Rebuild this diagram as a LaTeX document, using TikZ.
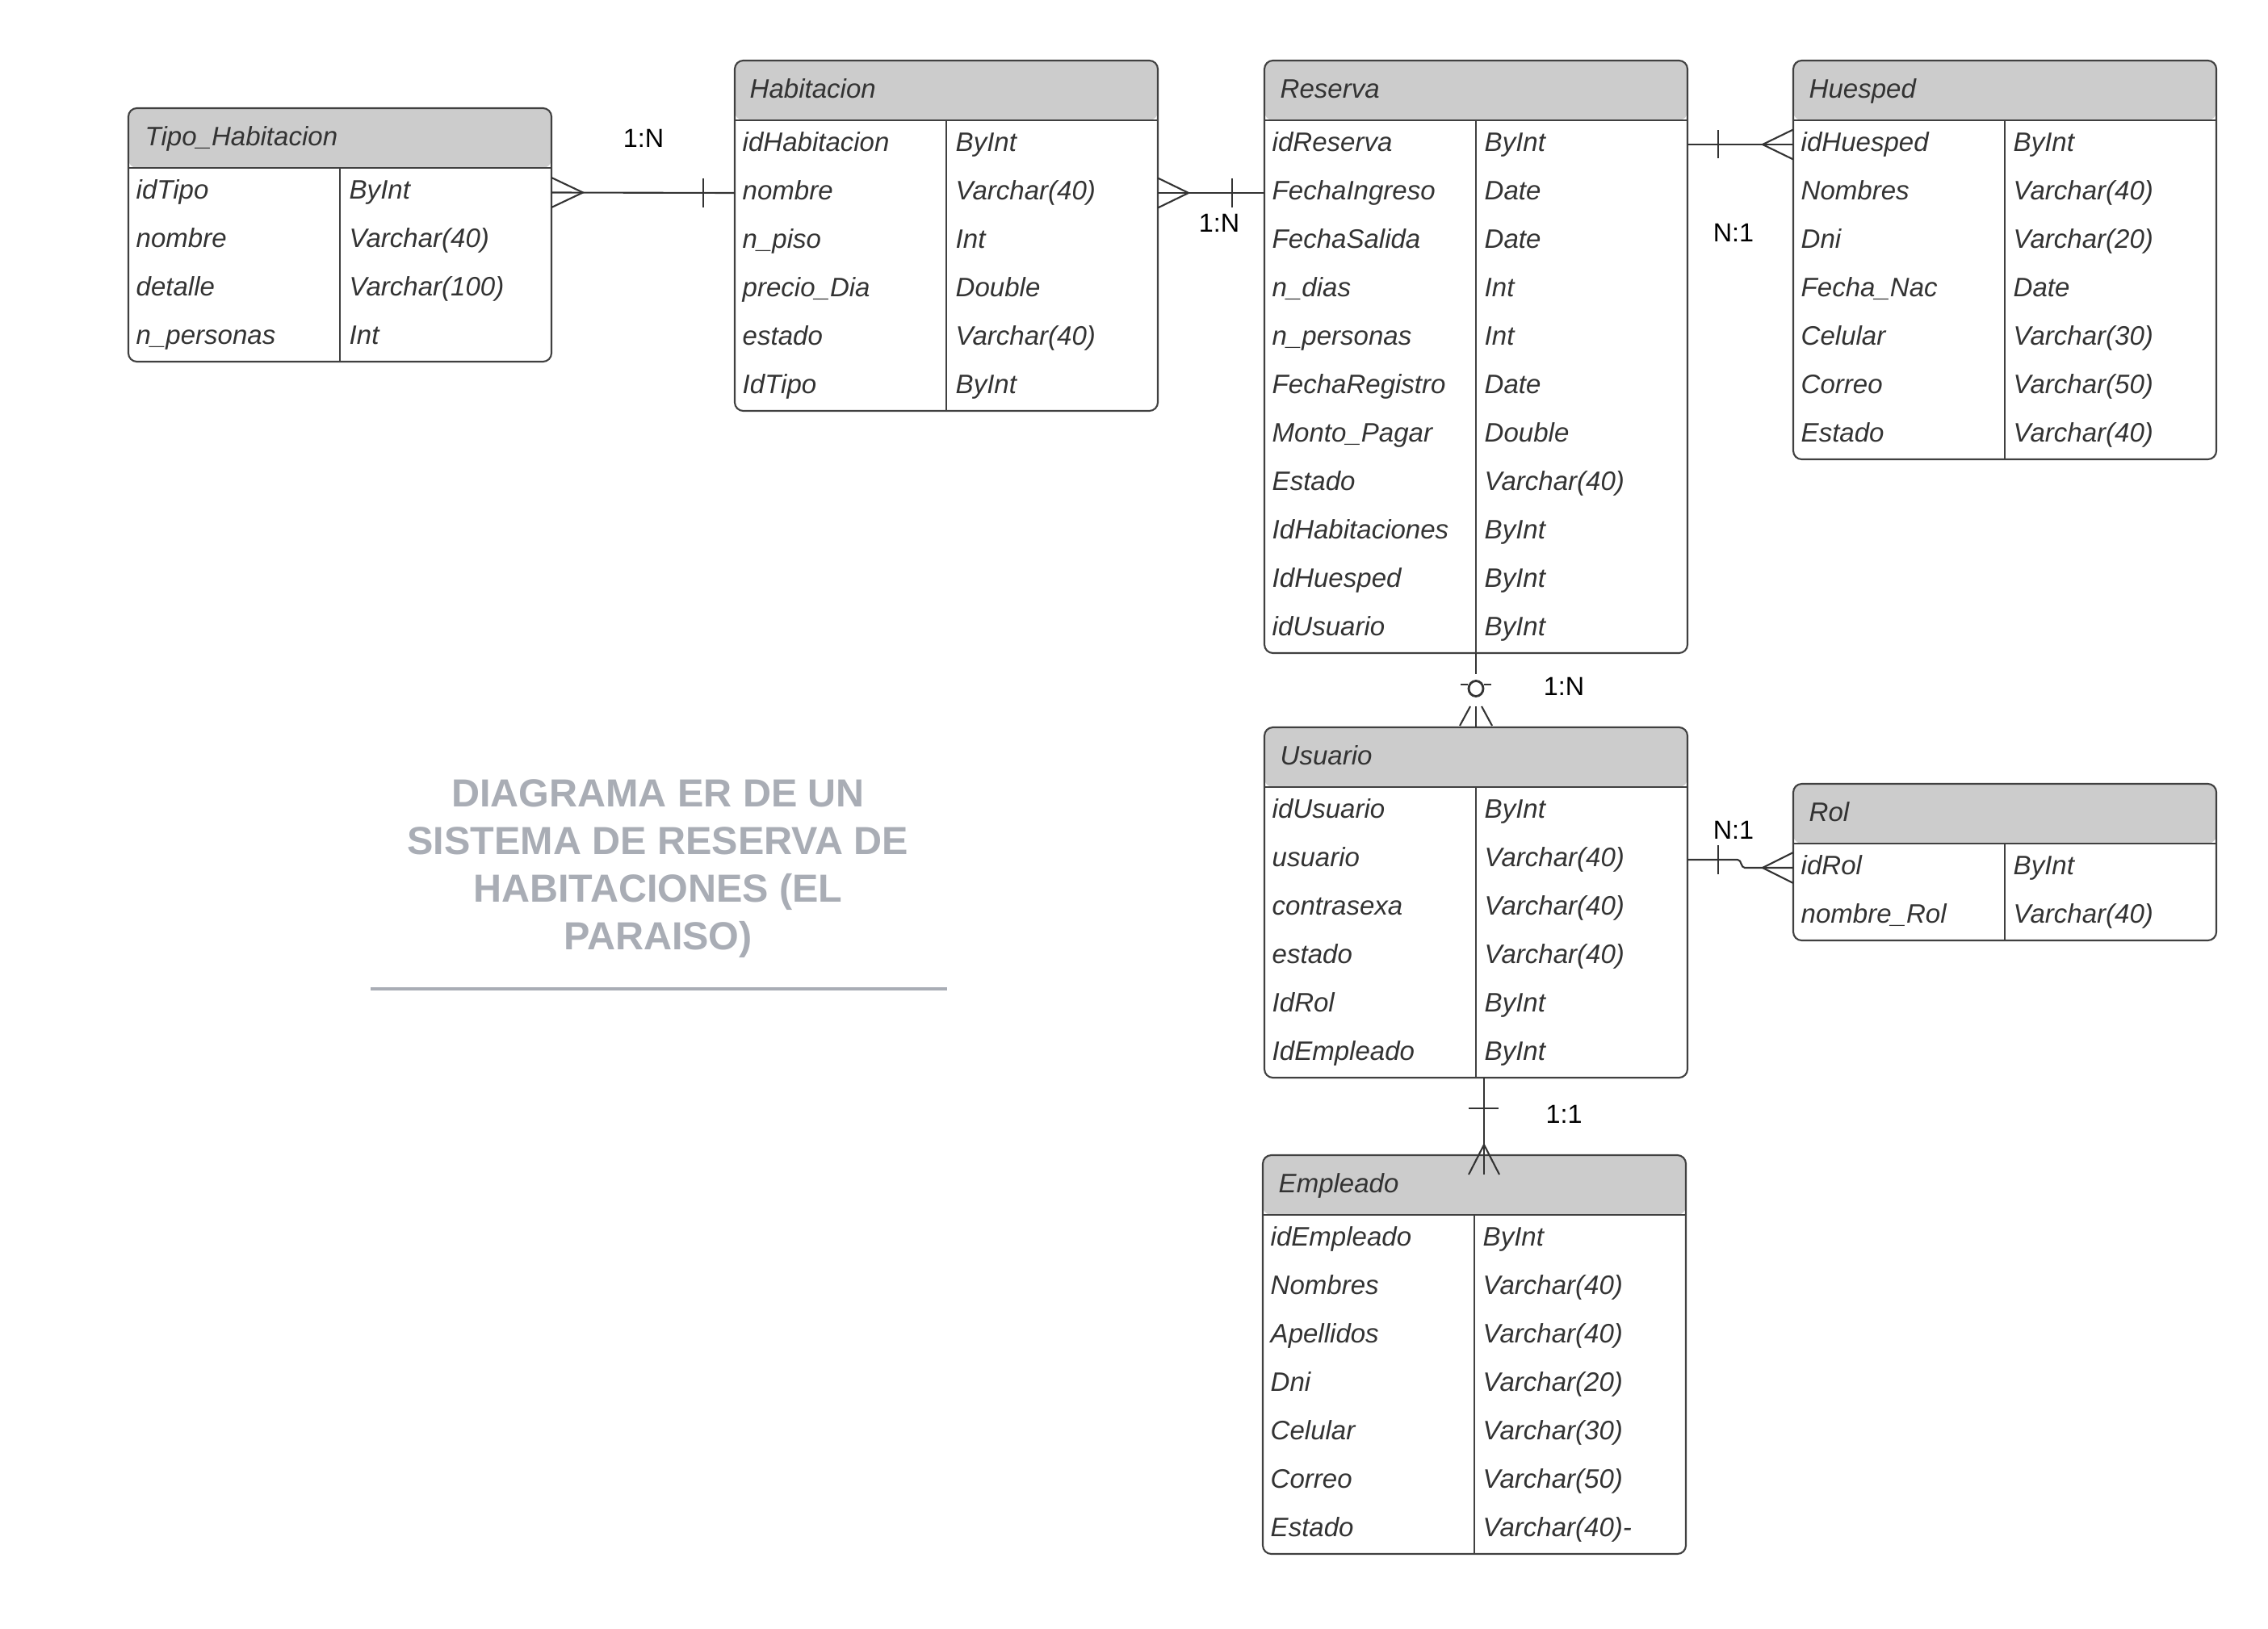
\documentclass[tikz,border=0pt]{standalone}
\usepackage{fontspec}
\setmainfont{Liberation Sans}
\usepackage{xcolor}

\definecolor{headgray}{HTML}{CCCCCC}
\definecolor{framegray}{HTML}{404040}
\definecolor{textgray}{HTML}{333333}
\definecolor{titlegray}{HTML}{A9ADB5}

\begin{document}
\begin{tikzpicture}[
    % Node styles
    entity/.style={
        rectangle,
        rounded corners=3pt,
        draw=framegray,
        line width=0.6pt,
        anchor=north west,
        minimum width=5.24cm,
        inner sep=0pt,
        outer sep=0pt,
        path picture={
            \fill[headgray] (path picture bounding box.north west)
                rectangle ([yshift=-0.74cm]path picture bounding box.north east);
        }
    },
    fieldtxt/.style={
        anchor=base west,
        inner sep=0pt,
        yshift=-0.25mm,
        font=\fontsize{9.4}{11}\selectfont\itshape,
        text=textgray
    },
    cardtxt/.style={
        inner sep=0pt,
        font=\fontsize{9.2}{11}\selectfont,
        text=black
    },
    titletxt/.style={
        align=center,
        font=\fontsize{13.8}{16.8}\selectfont\bfseries,
        text=titlegray
    },
    rule/.style={
        draw=framegray,
        line width=0.6pt
    },
    relline/.style={
        draw=textgray,
        line width=0.6pt
    }
]

\path[use as bounding box, fill=white] (0,0) rectangle (28.09,-20.18);

% ===== Tipo_Habitacion =====

\node[entity, minimum height=3.14cm] (tipo) at (1.59,-1.34) {};
\draw[rule] ([yshift=-0.74cm]tipo.north west) -- ([yshift=-0.74cm]tipo.north east);
\draw[rule] ([yshift=-0.74cm]tipo.north) -- (tipo.south);
\node[fieldtxt] (tipoH) at (1.79,-1.78) {Tipo\_Habitacion};
\node[fieldtxt] (tipoF1) at (1.68,-2.44) {idTipo};
\node[fieldtxt] (tipoT1) at (4.32,-2.44) {ByInt};
\node[fieldtxt] (tipoF2) at (1.68,-3.04) {nombre};
\node[fieldtxt] (tipoT2) at (4.32,-3.04) {Varchar(40)};
\node[fieldtxt] (tipoF3) at (1.68,-3.64) {detalle};
\node[fieldtxt] (tipoT3) at (4.32,-3.64) {Varchar(100)};
\node[fieldtxt] (tipoF4) at (1.68,-4.24) {n\_personas};
\node[fieldtxt] (tipoT4) at (4.32,-4.24) {Int};

% ===== Habitacion =====

\node[entity, minimum height=4.34cm] (hab) at (9.10,-0.75) {};
\draw[rule] ([yshift=-0.74cm]hab.north west) -- ([yshift=-0.74cm]hab.north east);
\draw[rule] ([yshift=-0.74cm]hab.north) -- (hab.south);
\node[fieldtxt] (habH) at (9.28,-1.19) {Habitacion};
\node[fieldtxt] (habF1) at (9.19,-1.85) {idHabitacion};
\node[fieldtxt] (habT1) at (11.83,-1.85) {ByInt};
\node[fieldtxt] (habF2) at (9.19,-2.45) {nombre};
\node[fieldtxt] (habT2) at (11.83,-2.45) {Varchar(40)};
\node[fieldtxt] (habF3) at (9.19,-3.05) {n\_piso};
\node[fieldtxt] (habT3) at (11.83,-3.05) {Int};
\node[fieldtxt] (habF4) at (9.19,-3.65) {precio\_Dia};
\node[fieldtxt] (habT4) at (11.83,-3.65) {Double};
\node[fieldtxt] (habF5) at (9.19,-4.25) {estado};
\node[fieldtxt] (habT5) at (11.83,-4.25) {Varchar(40)};
\node[fieldtxt] (habF6) at (9.19,-4.85) {IdTipo};
\node[fieldtxt] (habT6) at (11.83,-4.85) {ByInt};

% ===== Reserva =====

\node[entity, minimum height=7.34cm] (res) at (15.66,-0.75) {};
\draw[rule] ([yshift=-0.74cm]res.north west) -- ([yshift=-0.74cm]res.north east);
\draw[rule] ([yshift=-0.74cm]res.north) -- (res.south);
\node[fieldtxt] (resH) at (15.85,-1.19) {Reserva};
\node[fieldtxt] (resF1) at (15.75,-1.85) {idReserva};
\node[fieldtxt] (resT1) at (18.38,-1.85) {ByInt};
\node[fieldtxt] (resF2) at (15.75,-2.45) {FechaIngreso};
\node[fieldtxt] (resT2) at (18.38,-2.45) {Date};
\node[fieldtxt] (resF3) at (15.75,-3.05) {FechaSalida};
\node[fieldtxt] (resT3) at (18.38,-3.05) {Date};
\node[fieldtxt] (resF4) at (15.75,-3.65) {n\_dias};
\node[fieldtxt] (resT4) at (18.38,-3.65) {Int};
\node[fieldtxt] (resF5) at (15.75,-4.25) {n\_personas};
\node[fieldtxt] (resT5) at (18.38,-4.25) {Int};
\node[fieldtxt] (resF6) at (15.75,-4.85) {FechaRegistro};
\node[fieldtxt] (resT6) at (18.38,-4.85) {Date};
\node[fieldtxt] (resF7) at (15.75,-5.45) {Monto\_Pagar};
\node[fieldtxt] (resT7) at (18.38,-5.45) {Double};
\node[fieldtxt] (resF8) at (15.75,-6.05) {Estado};
\node[fieldtxt] (resT8) at (18.38,-6.05) {Varchar(40)};
\node[fieldtxt] (resF9) at (15.75,-6.65) {IdHabitaciones};
\node[fieldtxt] (resT9) at (18.38,-6.65) {ByInt};
\node[fieldtxt] (resF10) at (15.75,-7.25) {IdHuesped};
\node[fieldtxt] (resT10) at (18.38,-7.25) {ByInt};
\node[fieldtxt] (resF11) at (15.75,-7.85) {idUsuario};
\node[fieldtxt] (resT11) at (18.38,-7.85) {ByInt};

% ===== Huesped =====

\node[entity, minimum height=4.94cm] (hue) at (22.21,-0.75) {};
\draw[rule] ([yshift=-0.74cm]hue.north west) -- ([yshift=-0.74cm]hue.north east);
\draw[rule] ([yshift=-0.74cm]hue.north) -- (hue.south);
\node[fieldtxt] (hueH) at (22.40,-1.19) {Huesped};
\node[fieldtxt] (hueF1) at (22.30,-1.85) {idHuesped};
\node[fieldtxt] (hueT1) at (24.93,-1.85) {ByInt};
\node[fieldtxt] (hueF2) at (22.30,-2.45) {Nombres};
\node[fieldtxt] (hueT2) at (24.93,-2.45) {Varchar(40)};
\node[fieldtxt] (hueF3) at (22.30,-3.05) {Dni};
\node[fieldtxt] (hueT3) at (24.93,-3.05) {Varchar(20)};
\node[fieldtxt] (hueF4) at (22.30,-3.65) {Fecha\_Nac};
\node[fieldtxt] (hueT4) at (24.93,-3.65) {Date};
\node[fieldtxt] (hueF5) at (22.30,-4.25) {Celular};
\node[fieldtxt] (hueT5) at (24.93,-4.25) {Varchar(30)};
\node[fieldtxt] (hueF6) at (22.30,-4.85) {Correo};
\node[fieldtxt] (hueT6) at (24.93,-4.85) {Varchar(50)};
\node[fieldtxt] (hueF7) at (22.30,-5.45) {Estado};
\node[fieldtxt] (hueT7) at (24.93,-5.45) {Varchar(40)};

% ===== Usuario =====

\node[entity, minimum height=4.34cm] (usu) at (15.66,-9.01) {};
\draw[rule] ([yshift=-0.74cm]usu.north west) -- ([yshift=-0.74cm]usu.north east);
\draw[rule] ([yshift=-0.74cm]usu.north) -- (usu.south);
\node[fieldtxt] (usuH) at (15.85,-9.45) {Usuario};
\node[fieldtxt] (usuF1) at (15.75,-10.11) {idUsuario};
\node[fieldtxt] (usuT1) at (18.38,-10.11) {ByInt};
\node[fieldtxt] (usuF2) at (15.75,-10.71) {usuario};
\node[fieldtxt] (usuT2) at (18.38,-10.71) {Varchar(40)};
\node[fieldtxt] (usuF3) at (15.75,-11.31) {contrasexa};
\node[fieldtxt] (usuT3) at (18.38,-11.31) {Varchar(40)};
\node[fieldtxt] (usuF4) at (15.75,-11.91) {estado};
\node[fieldtxt] (usuT4) at (18.38,-11.91) {Varchar(40)};
\node[fieldtxt] (usuF5) at (15.75,-12.51) {IdRol};
\node[fieldtxt] (usuT5) at (18.38,-12.51) {ByInt};
\node[fieldtxt] (usuF6) at (15.75,-13.11) {IdEmpleado};
\node[fieldtxt] (usuT6) at (18.38,-13.11) {ByInt};

% ===== Rol =====

\node[entity, minimum height=1.94cm] (rol) at (22.21,-9.71) {};
\draw[rule] ([yshift=-0.74cm]rol.north west) -- ([yshift=-0.74cm]rol.north east);
\draw[rule] ([yshift=-0.74cm]rol.north) -- (rol.south);
\node[fieldtxt] (rolH) at (22.40,-10.15) {Rol};
\node[fieldtxt] (rolF1) at (22.30,-10.81) {idRol};
\node[fieldtxt] (rolT1) at (24.93,-10.81) {ByInt};
\node[fieldtxt] (rolF2) at (22.30,-11.41) {nombre\_Rol};
\node[fieldtxt] (rolT2) at (24.93,-11.41) {Varchar(40)};

% ===== Empleado =====

\node[entity, minimum height=4.94cm] (emp) at (15.64,-14.31) {};
\draw[rule] ([yshift=-0.74cm]emp.north west) -- ([yshift=-0.74cm]emp.north east);
\draw[rule] ([yshift=-0.74cm]emp.north) -- (emp.south);
\node[fieldtxt] (empH) at (15.83,-14.75) {Empleado};
\node[fieldtxt] (empF1) at (15.73,-15.41) {idEmpleado};
\node[fieldtxt] (empT1) at (18.36,-15.41) {ByInt};
\node[fieldtxt] (empF2) at (15.73,-16.01) {Nombres};
\node[fieldtxt] (empT2) at (18.36,-16.01) {Varchar(40)};
\node[fieldtxt] (empF3) at (15.73,-16.61) {Apellidos};
\node[fieldtxt] (empT3) at (18.36,-16.61) {Varchar(40)};
\node[fieldtxt] (empF4) at (15.73,-17.21) {Dni};
\node[fieldtxt] (empT4) at (18.36,-17.21) {Varchar(20)};
\node[fieldtxt] (empF5) at (15.73,-17.81) {Celular};
\node[fieldtxt] (empT5) at (18.36,-17.81) {Varchar(30)};
\node[fieldtxt] (empF6) at (15.73,-18.41) {Correo};
\node[fieldtxt] (empT6) at (18.36,-18.41) {Varchar(50)};
\node[fieldtxt] (empF7) at (15.73,-19.01) {Estado};
\node[fieldtxt] (empT7) at (18.36,-19.01) {Varchar(40)-};

% ===== Relations =====

% Tipo_Habitacion -- Habitacion
\coordinate (tipoR) at ([yshift=-1.045cm]tipo.north east);
\coordinate (habL) at ([yshift=-1.64cm]hab.north west);
\draw[relline] (tipoR) -- (habL);
\draw[relline] ([yshift=1.85mm]tipoR) -- ++(3.9mm,-1.85mm) -- ++(-3.9mm,-1.85mm);
\draw[relline] ([xshift=-3.9mm,yshift=1.8mm]habL) -- ++(0,-3.6mm);
\node[cardtxt] (c1) at (7.97,-1.71) {1:N};

% Habitacion -- Reserva
\coordinate (habR) at ([yshift=-1.64cm]hab.north east);
\coordinate (resL) at ([yshift=-1.64cm]res.north west);
\draw[relline] (habR) -- (resL);
\draw[relline] ([yshift=1.85mm]habR) -- ++(3.8mm,-1.85mm) -- ++(-3.8mm,-1.85mm);
\draw[relline] ([xshift=-4mm,yshift=1.8mm]resL) -- ++(0,-3.6mm);
\node[cardtxt] (c2) at (15.10,-2.76) {1:N};

% Reserva -- Huesped
\coordinate (resR) at ([yshift=-1.04cm]res.north east);
\coordinate (hueL) at ([yshift=-1.04cm]hue.north west);
\draw[relline] (resR) -- (hueL);
\draw[relline] ([xshift=3.8mm,yshift=1.75mm]resR) -- ++(0,-3.5mm);
\draw[relline] ([yshift=1.85mm]hueL) -- ++(-3.8mm,-1.85mm) -- ++(3.8mm,-1.85mm);
\node[cardtxt] (c3) at (21.47,-2.88) {N:1};

% Reserva -- Usuario
\draw[relline] (res.south) -- ++(0,-2.6mm);
\draw[relline, line width=0.8pt] ([yshift=-4.4mm]res.south) ellipse (0.9mm and 0.95mm);
\draw[relline] ([xshift=-1.9mm,yshift=-3.9mm]res.south) -- ++(0.9mm,0);
\draw[relline] ([xshift=1mm,yshift=-3.9mm]res.south) -- ++(0.9mm,0);
\draw[relline] (usu.north) -- ++(0,2.6mm);
\draw[relline] ([xshift=-2mm,yshift=0.2mm]usu.north) -- ++(1.3mm,2.4mm);
\draw[relline] ([xshift=2mm,yshift=0.2mm]usu.north) -- ++(-1.3mm,2.4mm);
\node[cardtxt] (c4) at (19.37,-8.50) {1:N};

% Usuario -- Rol
\coordinate (usuR) at ([yshift=-1.64cm]usu.north east);
\coordinate (rolL) at ([yshift=-1.04cm]rol.north west);
\draw[relline] (usuR) -- ++(6.2mm,0) to[out=0,in=180] ++(0.9mm,-1mm) -- (rolL);
\draw[relline] ([xshift=3.8mm,yshift=1.8mm]usuR) -- ++(0,-3.6mm);
\draw[relline] ([yshift=1.9mm]rolL) -- ++(-3.8mm,-1.9mm) -- ++(3.8mm,-1.9mm);
\node[cardtxt] (c5) at (21.47,-10.28) {N:1};

% Usuario -- Empleado
\coordinate (usuB) at ([xshift=1mm]usu.south);
\coordinate (empT) at (usuB |- emp.north);
\draw[relline] (usuB) -- ([yshift=-2.4mm]empT);
\draw[relline] ([xshift=-1.9mm,yshift=-3.8mm]usuB) -- ++(3.7mm,0);
\draw[relline] ([xshift=-1.9mm,yshift=-2.4mm]empT) -- ++(1.9mm,3.7mm) -- ++(1.9mm,-3.7mm);
\node[cardtxt] (c6) at (19.37,-13.80) {1:1};

% ===== Title =====

\node[titletxt] (title) at (8.15,-10.76) {
    DIAGRAMA ER DE UN\\
    SISTEMA DE RESERVA DE\\
    HABITACIONES (EL\\
    PARAISO)
};
\draw[draw=titlegray, line width=1.1pt] (4.59,-12.25) -- (11.73,-12.25);

\end{tikzpicture}
\end{document}
